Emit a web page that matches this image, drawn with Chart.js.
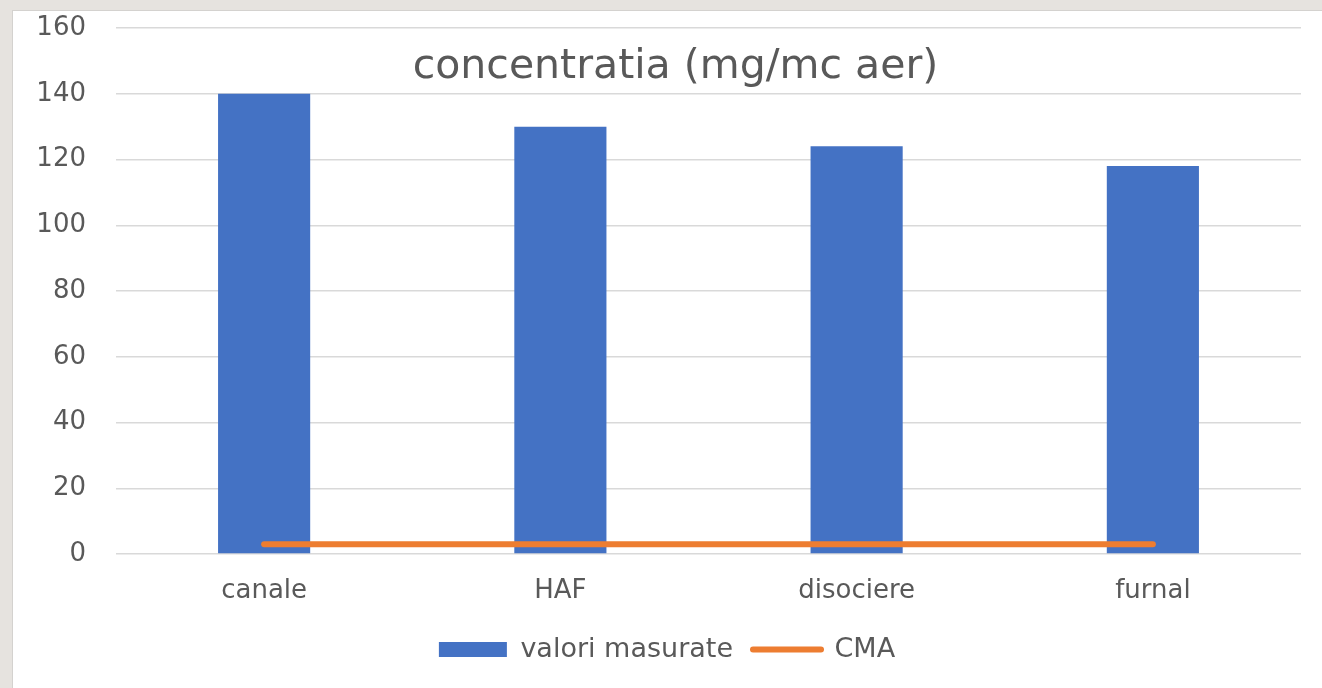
<!DOCTYPE html>
<html>
<head>
<meta charset="utf-8">
<script src="https://cdn.jsdelivr.net/npm/chart.js@4.4.1/dist/chart.umd.min.js"></script>
<style>
  html, body { margin: 0; padding: 0; background: #e6e3df; width: 1322px; height: 688px; overflow: hidden; }
  #panel { position: absolute; left: 12px; top: 10px; width: 1310px; height: 678px; background: #ffffff; border-left: 1px solid #d4d2cf; border-top: 1px solid #d4d2cf; box-sizing: border-box; }
  #c { display: block; }
</style>
</head>
<body>
<div id="panel"><canvas id="c" width="1309" height="677"></canvas></div>
<script>
const chartTitle = "concentratia (mg/mc aer)";
const categories = ["canale", "HAF", "disociere", "furnal"];
const measuredLabel = "valori masurate";
const measuredValues = [140, 130, 124, 118];
const cmaLabel = "CMA";
const cmaValues = [3, 3, 3, 3];
const yTicks = [0, 20, 40, 60, 80, 100, 120, 140, 160];

const textColor = "#595959";
const fontFamily = "'DejaVu Sans', sans-serif";

const titlePlugin = {
  id: "insideTitle",
  afterDraw(chart) {
    const ctx = chart.ctx;
    ctx.save();
    ctx.font = "41px " + fontFamily;
    ctx.fillStyle = textColor;
    ctx.textAlign = "center";
    ctx.textBaseline = "alphabetic";
    ctx.fillText(chartTitle, chart.width / 2 + 8, chart.chartArea.top + 50);
    ctx.restore();
  }
};

new Chart(document.getElementById("c"), {
  data: {
    labels: categories,
    datasets: [
      {
        type: "bar",
        label: measuredLabel,
        data: measuredValues,
        backgroundColor: "#4472C4",
        borderWidth: 0,
        categoryPercentage: 1.0,
        barPercentage: 0.311,
        order: 1
      },
      {
        type: "line",
        label: cmaLabel,
        data: cmaValues,
        borderColor: "#ED7D31",
        backgroundColor: "#ED7D31",
        borderWidth: 6,
        borderCapStyle: "round",
        pointRadius: 0,
        pointHoverRadius: 0,
        tension: 0,
        fill: false,
        order: 0
      }
    ]
  },
  options: {
    responsive: false,
    animation: false,
    devicePixelRatio: 1,
    layout: { padding: { top: 17, left: 20, right: 21, bottom: 15 } },
    plugins: {
      title: { display: false },
      tooltip: { enabled: false },
      legend: {
        position: "bottom",
        labels: {
          usePointStyle: true,
          pointStyleWidth: 68,
          boxHeight: 15,
          padding: 20,
          color: textColor,
          font: { family: fontFamily, size: 27 },
          generateLabels(chart) {
            const items = Chart.defaults.plugins.legend.labels.generateLabels(chart);
            items.forEach(it => {
              if (it.datasetIndex === 0) {
                it.pointStyle = "rect";
                it.lineWidth = 0;
                it.fillStyle = "#4472C4";
              } else {
                it.pointStyle = "line";
                it.lineWidth = 6;
                it.lineCap = "round";
                it.strokeStyle = "#ED7D31";
              }
            });
            return items.sort((a, b) => a.datasetIndex - b.datasetIndex);
          }
        }
      }
    },
    scales: {
      x: {
        grid: { display: false, drawTicks: false },
        border: { display: false },
        ticks: { color: textColor, font: { family: fontFamily, size: 26 }, padding: 22 },
        afterFit(scale) { scale.height = 62; }
      },
      y: {
        min: yTicks[0],
        max: yTicks[yTicks.length - 1],
        afterBuildTicks(scale) { scale.ticks = yTicks.map(v => ({ value: v })); },
        grid: { color: "#d9d9d9", lineWidth: 1.5, drawTicks: false },
        border: { display: false },
        ticks: { color: textColor, font: { family: fontFamily, size: 26 }, padding: 30 },
        afterFit(scale) { scale.width = 83; scale.paddingTop = 0; scale.paddingBottom = 0; }
      }
    }
  },
  plugins: [titlePlugin]
});
</script>
</body>
</html>
